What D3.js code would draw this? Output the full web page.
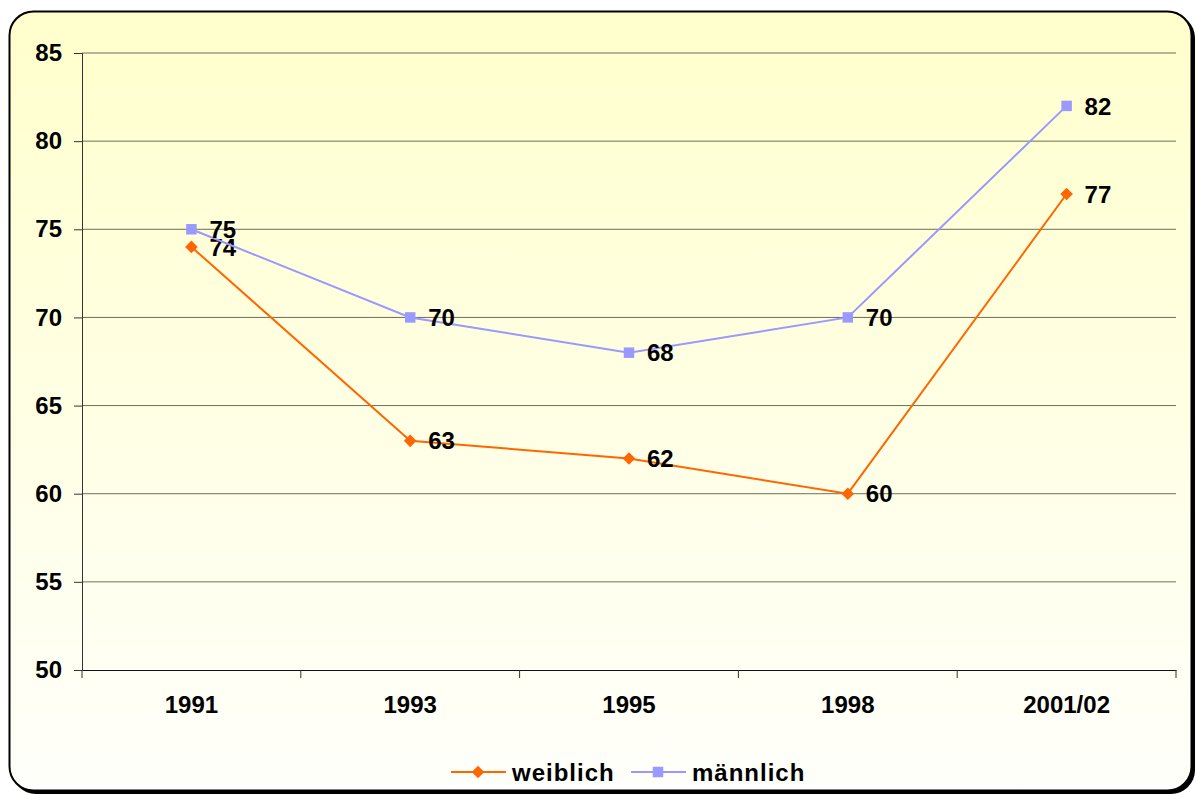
<!DOCTYPE html>
<html>
<head>
<meta charset="utf-8">
<script src="https://cdn.jsdelivr.net/npm/d3@7"></script>
<style>
  body { margin: 0; background: #fff; }
  svg text { font-family: Arial, "Liberation Sans", sans-serif; font-weight: bold; fill: #000; }
</style>
</head>
<body>
<svg id="chart" width="1197" height="794"></svg>
<script>
// data
const years = ["1991", "1993", "1995", "1998", "2001/02"];
const weiblich = [74, 63, 62, 60, 77];
const maennlich = [75, 70, 68, 70, 82];
const yTicks = [50, 55, 60, 65, 70, 75, 80, 85];

const svg = d3.select("#chart");

// background gradient + frame
const defs = svg.append("defs");
const grad = defs.append("linearGradient").attr("id", "bg")
    .attr("x1", 0).attr("y1", 0).attr("x2", 0).attr("y2", 1);
grad.append("stop").attr("offset", "0%").attr("stop-color", "#FFFFCC");
grad.append("stop").attr("offset", "100%").attr("stop-color", "#FFFFFB");

// shadow
svg.append("rect")
    .attr("x", 12).attr("y", 14).attr("width", 1183).attr("height", 780)
    .attr("rx", 24).attr("fill", "#000");
svg.append("rect")
    .attr("x", 9.5).attr("y", 11.5).attr("width", 1182).attr("height", 779)
    .attr("rx", 24).attr("fill", "url(#bg)")
    .attr("stroke", "#000").attr("stroke-width", 2);

const plotL = 82, plotR = 1176, plotT = 53, plotB = 670;

const x = d3.scaleBand().domain(years).range([plotL, plotR]);
const y = d3.scaleLinear().domain([50, 85]).range([plotB, plotT]);

// gridlines
svg.append("g").selectAll("line")
    .data(yTicks.filter(d => d > 50))
    .join("line")
    .attr("x1", plotL).attr("x2", plotR)
    .attr("y1", d => y(d)).attr("y2", d => y(d))
    .attr("stroke", "#6e6e58").attr("stroke-width", 1);

// y axis
const yAxis = svg.append("g")
    .attr("transform", `translate(${plotL},0)`)
    .call(d3.axisLeft(y).tickValues(yTicks).tickSize(8).tickPadding(12));
yAxis.select(".domain").attr("stroke", "#333");
yAxis.selectAll(".tick line").attr("stroke", "#333");
yAxis.selectAll("text").style("font-size", "24px");

// x axis with ticks at band boundaries
const xAxis = svg.append("g")
    .attr("transform", `translate(0,${plotB})`)
    .call(d3.axisBottom(x).tickSize(0).tickPadding(26));
xAxis.select(".domain").attr("stroke", "#111");
xAxis.selectAll("text").style("font-size", "24px");
const bounds = years.map(d => x(d)).concat([plotR]);
xAxis.selectAll(".bnd").data(bounds).join("line")
    .attr("x1", d => d).attr("x2", d => d)
    .attr("y1", 0).attr("y2", 8)
    .attr("stroke", "#333");

const cx = d => x(d) + x.bandwidth() / 2;

// diamond = rotated square
function marker(sel, shape) {
    sel.attr("d", d3.symbol().type(d3.symbolSquare).size(shape === "diamond" ? 80 : 110));
}

function drawSeries(vals, color, shape) {
    const line = d3.line()
        .x((d, i) => cx(years[i]))
        .y(d => y(d));
    svg.append("path").datum(vals)
        .attr("d", line)
        .attr("fill", "none")
        .attr("stroke", color)
        .attr("stroke-width", 2);
    svg.append("g").selectAll("path")
        .data(vals)
        .join("path")
        .call(marker, shape)
        .attr("transform", (d, i) => `translate(${cx(years[i])},${y(d)})` + (shape === "diamond" ? " rotate(45)" : ""))
        .attr("fill", color);
    svg.append("g").selectAll("text")
        .data(vals)
        .join("text")
        .attr("x", (d, i) => cx(years[i]) + 18)
        .attr("y", d => y(d))
        .attr("dy", "0.36em")
        .style("font-size", "24px")
        .text(d => d);
}

drawSeries(weiblich, "#FF6600", "diamond");
drawSeries(maennlich, "#9999FF", "square");

// legend
const legend = [
    { name: "weiblich", color: "#FF6600", shape: "diamond", x: 451 },
    { name: "männlich", color: "#9999FF", shape: "square", x: 631 }
];
const lg = svg.append("g").selectAll("g").data(legend).join("g")
    .attr("transform", d => `translate(${d.x},772)`);
lg.append("line").attr("x1", 0).attr("x2", 55)
    .attr("stroke", d => d.color).attr("stroke-width", 2);
lg.each(function(d) {
    d3.select(this).append("path")
        .call(marker, d.shape)
        .attr("transform", "translate(27,0)" + (d.shape === "diamond" ? " rotate(45)" : ""))
        .attr("fill", d.color);
});
lg.append("text").attr("x", 61).attr("dy", "0.36em")
    .style("font-size", "24px").style("letter-spacing", "1px")
    .text(d => d.name);
</script>
</body>
</html>
